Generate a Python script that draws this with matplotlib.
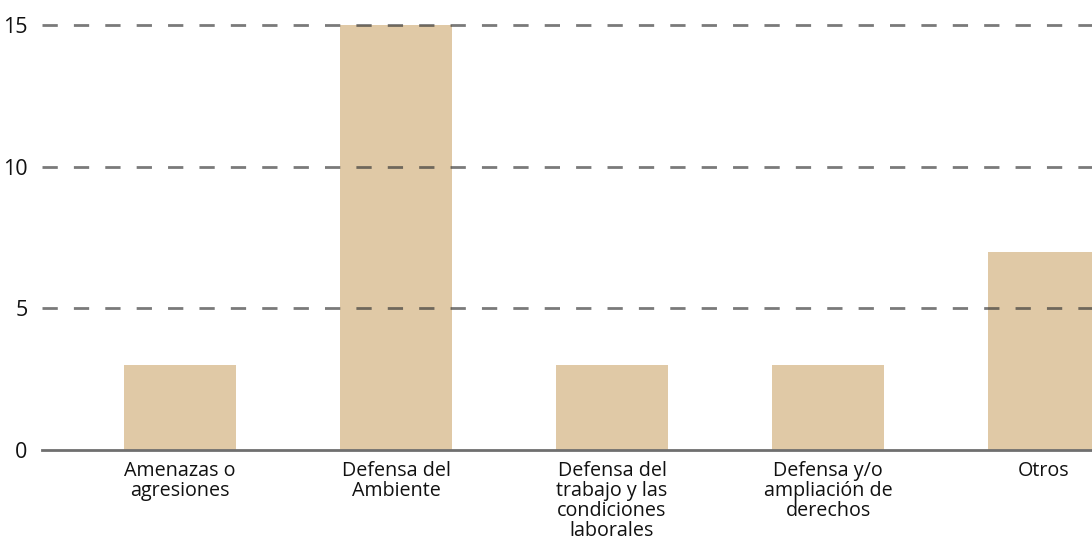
import matplotlib.pyplot as plt

# Data
categories = [
    "Amenazas o\nagresiones",
    "Defensa del\nAmbiente",
    "Defensa del\ntrabajo y las\ncondiciones\nlaborales",
    "Defensa y/o\nampliación de\nderechos",
    "Otros",
]
values = [3, 15, 3, 3, 7]
y_ticks = [0, 5, 10, 15]

BAR_COLOR = "#e0c9a6"
GRID_COLOR = "#6f6f6f"

plt.rcParams["font.family"] = ["Open Sans", "DejaVu Sans"]

fig = plt.figure(figsize=(10.92, 5.46), dpi=100)
ax = fig.add_axes([0.0385, 0.1758, 0.9615, 0.8044])

x = range(len(categories))
ax.bar(x, values, width=0.515, color=BAR_COLOR, zorder=1)

# dashed gridlines drawn over the bars
for yv in y_ticks[1:]:
    ax.axhline(yv, color="#333333", alpha=0.65, lw=2, dashes=(5.5, 5.8), zorder=3)
ax.axhline(0, color=GRID_COLOR, lw=2, zorder=3, clip_on=False)

ax.set_xlim(-0.639, 4.222)
ax.set_ylim(0, 15.5)
ax.set_xticks(list(x))
ax.set_xticklabels(categories, fontsize=14.2, color="#111111", linespacing=1.0)
ax.set_yticks(y_ticks)
ax.set_yticklabels([str(v) for v in y_ticks], fontsize=15.5, color="#111111")
ax.tick_params(axis="both", length=0)
ax.tick_params(axis="y", pad=10.5)
ax.tick_params(axis="x", pad=8)

for side in ["top", "right", "left", "bottom"]:
    ax.spines[side].set_visible(False)

fig.savefig("out.png", dpi=100)
plt.close(fig)
